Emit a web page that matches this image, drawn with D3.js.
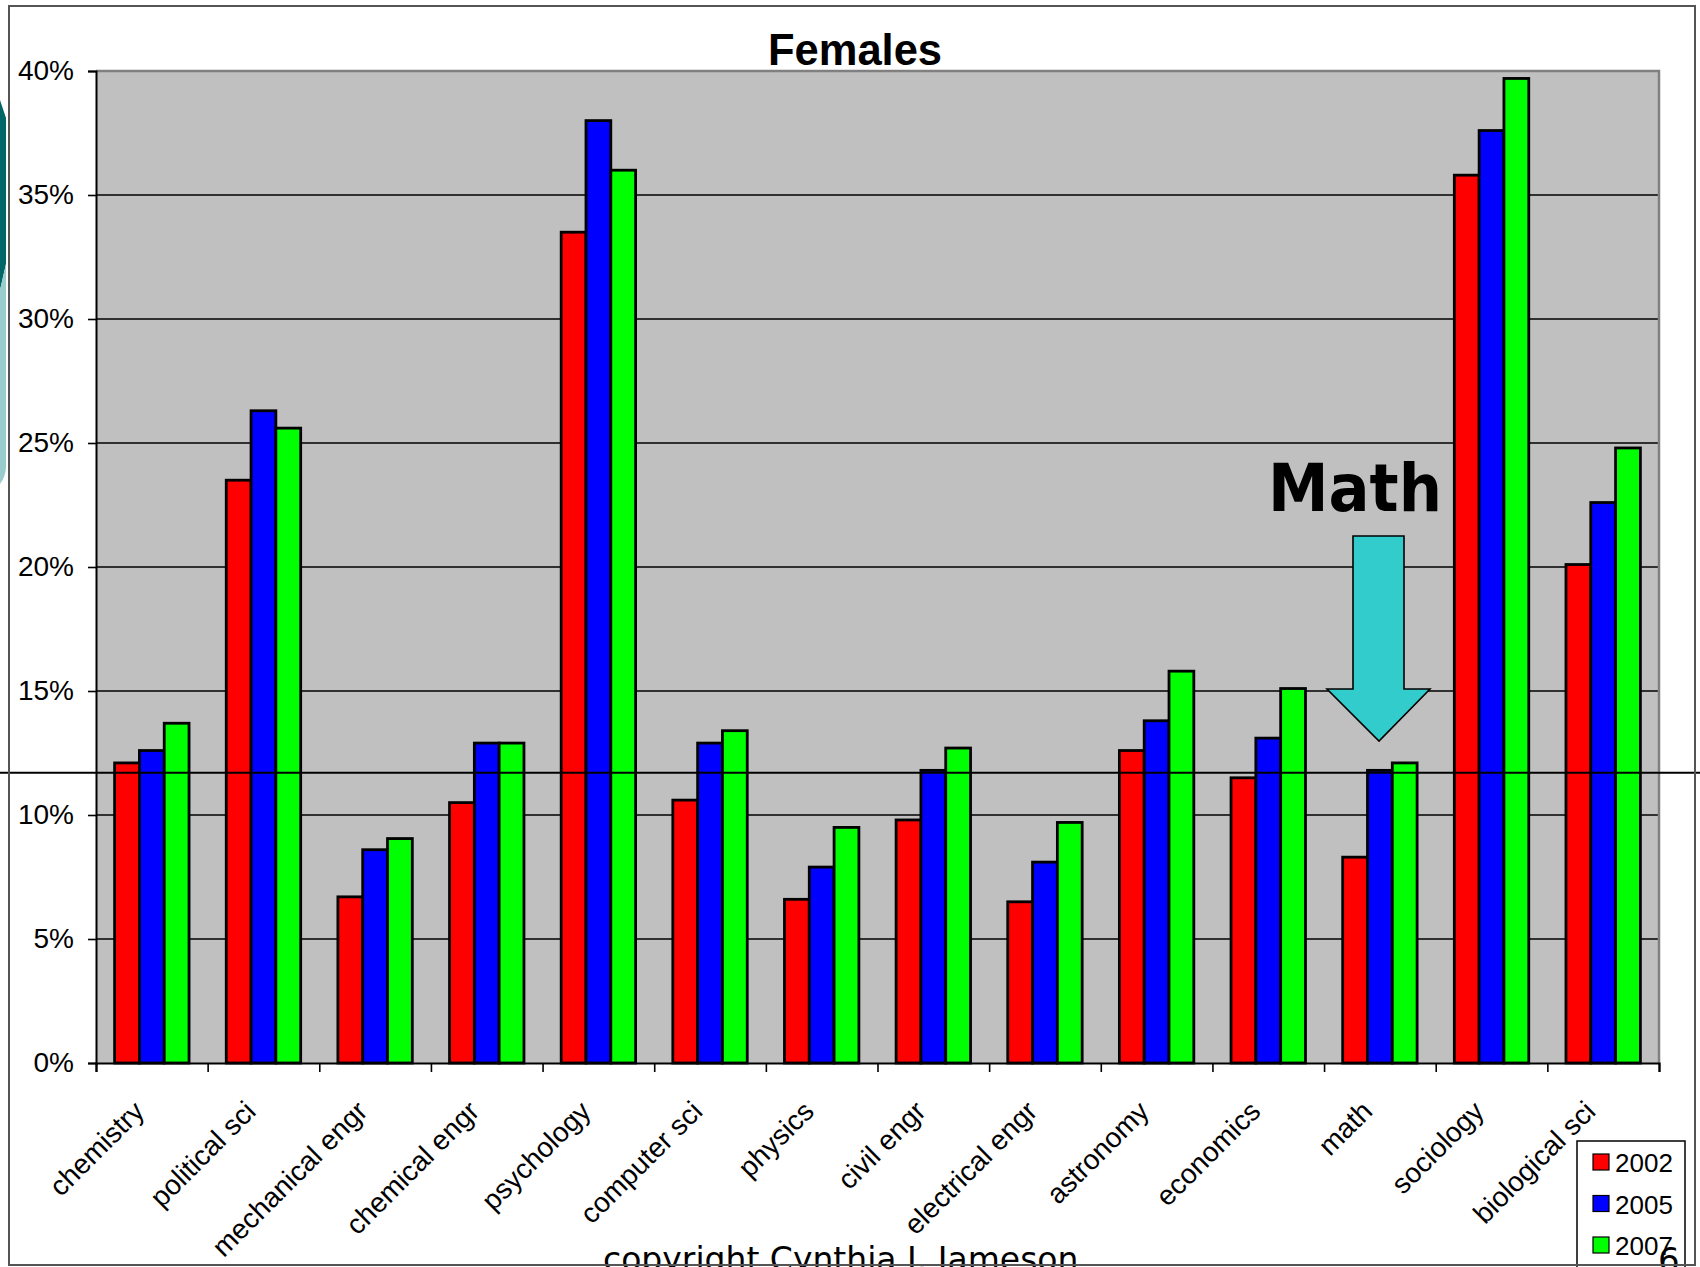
<!DOCTYPE html>
<html>
<head>
<meta charset="utf-8">
<script src="https://cdn.jsdelivr.net/npm/d3@7"></script>
<style>
  body { margin: 0; background: #fff; }
  svg { display: block; }
</style>
</head>
<body>
<svg id="chart" width="1700" height="1267"></svg>
<script>
// Share of female students by field, percent
const categories = ["chemistry", "political sci", "mechanical engr", "chemical engr", "psychology",
  "computer sci", "physics", "civil engr", "electrical engr", "astronomy", "economics",
  "math", "sociology", "biological sci"];
const years = ["2002", "2005", "2007"];
const values2002 = [12.1, 23.5, 6.7, 10.5, 33.5, 10.6, 6.6, 9.8, 6.5, 12.6, 11.5, 8.3, 35.8, 20.1];
const values2005 = [12.6, 26.3, 8.6, 12.9, 38.0, 12.9, 7.9, 11.8, 8.1, 13.8, 13.1, 11.8, 37.6, 22.6];
const values2007 = [13.7, 25.6, 9.05, 12.9, 36.0, 13.4, 9.5, 12.7, 9.7, 15.8, 15.1, 12.1, 39.7, 24.8];
const yTicks = [0, 5, 10, 15, 20, 25, 30, 35, 40];
const mathLevel = 11.7;   // reference line drawn across the slide
const seriesColors = ["#ff0000", "#0000ff", "#00ff00"];

const seriesValues = [values2002, values2005, values2007];
const rows = categories.map((c, i) => ({
  category: c,
  bars: years.map((y, k) => ({ year: y, value: seriesValues[k][i], color: seriesColors[k] }))
}));

const svg = d3.select("#chart");
const W = 1700, H = 1267;
const plot = { left: 96, right: 1659, top: 71, bottom: 1063 };

const x0 = d3.scaleBand().domain(categories).range([plot.left, plot.right]).paddingInner(0).paddingOuter(0);
const x1 = d3.scaleBand().domain(years).range([0, x0.bandwidth()]).paddingInner(0).paddingOuter(0.75);
const y = d3.scaleLinear().domain([0, 40]).range([plot.bottom, plot.top]);

// slide decoration on the left edge
svg.append("path")
  .attr("d", "M0,100 L6,118 L6,264 L0,290 Z")
  .attr("fill", "#006666");
svg.append("path")
  .attr("d", "M0,290 L6,264 L6,466 Q6,476 0,484 Z")
  .attr("fill", "#99cccc");

// plot background
svg.append("rect")
  .attr("x", plot.left).attr("y", plot.top)
  .attr("width", plot.right - plot.left).attr("height", plot.bottom - plot.top)
  .attr("fill", "#c0c0c0");

// gridlines
svg.append("g").selectAll("line").data(yTicks.filter(t => t > 0 && t < 40)).join("line")
  .attr("x1", plot.left).attr("x2", plot.right)
  .attr("y1", d => y(d)).attr("y2", d => y(d))
  .attr("stroke", "#000").attr("stroke-width", 1.6);

// plot border (top and right)
svg.append("path")
  .attr("d", `M${plot.left},${plot.top} H${plot.right} V${plot.bottom}`)
  .attr("fill", "none").attr("stroke", "#808080").attr("stroke-width", 2.5);

// bars
const groups = svg.append("g").selectAll("g").data(rows).join("g")
  .attr("transform", d => `translate(${x0(d.category)},0)`);
groups.selectAll("rect").data(d => d.bars).join("rect")
  .attr("x", d => x1(d.year))
  .attr("y", d => y(d.value))
  .attr("width", x1.bandwidth())
  .attr("height", d => y(0) - y(d.value))
  .attr("fill", d => d.color)
  .attr("stroke", "#000").attr("stroke-width", 2.8);

// y axis
const yAxis = svg.append("g")
  .attr("transform", `translate(${plot.left},0)`)
  .call(d3.axisLeft(y).tickValues(yTicks).tickSize(8).tickPadding(14).tickFormat(d => d + "%"));
yAxis.select(".domain").attr("stroke", "#000").attr("stroke-width", 2);
yAxis.selectAll(".tick line").attr("stroke", "#000").attr("stroke-width", 1.6);
yAxis.selectAll(".tick text")
  .attr("font-family", "'Liberation Sans', Arial, sans-serif")
  .attr("font-size", 28).attr("fill", "#000");

// x axis: ticks between categories
const xBounds = categories.map(c => x0(c)).concat([x0.range()[1]]);
const xAxis = svg.append("g")
  .attr("transform", `translate(0,${plot.bottom})`)
  .call(d3.axisBottom(d3.scaleLinear().domain([plot.left, plot.right]).range([plot.left, plot.right]))
    .tickValues(xBounds).tickSize(9).tickFormat(""));
xAxis.select(".domain").attr("stroke", "#000").attr("stroke-width", 2.2);
xAxis.selectAll(".tick line").attr("stroke", "#000").attr("stroke-width", 1.6);

// rotated category labels
svg.append("g").selectAll("text").data(categories).join("text")
  .attr("transform", d => `translate(${x0(d) + x0.bandwidth() / 2 - 6},${plot.bottom + 50}) rotate(-45)`)
  .attr("text-anchor", "end")
  .attr("font-family", "'Liberation Sans', Arial, sans-serif")
  .attr("font-size", 28).attr("fill", "#000")
  .text(d => d);

// title
svg.append("text")
  .attr("x", 855).attr("y", 65)
  .attr("text-anchor", "middle")
  .attr("font-family", "'Liberation Sans', Arial, sans-serif")
  .attr("font-weight", "bold").attr("font-size", 43.5)
  .text("Females");

// horizontal reference line across the slide
svg.append("line")
  .attr("x1", 0).attr("x2", W)
  .attr("y1", y(mathLevel)).attr("y2", y(mathLevel))
  .attr("stroke", "#000").attr("stroke-width", 2);

// Math annotation with arrow
svg.append("text")
  .attr("x", 1268).attr("y", 511)
  .attr("font-family", "'DejaVu Sans', Verdana, sans-serif")
  .attr("font-weight", "bold").attr("font-size", 66)
  .attr("textLength", 174).attr("lengthAdjust", "spacingAndGlyphs")
  .text("Math");
svg.append("path")
  .attr("d", "M1353,536 H1404 V689 H1430 L1379,741 L1327,689 H1353 Z")
  .attr("fill", "#33cccc").attr("stroke", "#000").attr("stroke-width", 1.6)
  .attr("stroke-linejoin", "miter");

// legend
const legend = svg.append("g");
legend.append("rect")
  .attr("x", 1577).attr("y", 1141).attr("width", 108).attr("height", 140)
  .attr("fill", "#fff").attr("stroke", "#000").attr("stroke-width", 1.5);
const items = legend.selectAll("g").data(years).join("g")
  .attr("transform", (d, i) => `translate(1593,${1162 + i * 41.5})`);
items.append("rect")
  .attr("x", 0).attr("y", -8).attr("width", 16).attr("height", 16)
  .attr("fill", (d, i) => seriesColors[i]).attr("stroke", "#000").attr("stroke-width", 1.2);
items.append("text")
  .attr("x", 22).attr("y", 1).attr("dy", "0.36em")
  .attr("font-family", "'Liberation Sans', Arial, sans-serif")
  .attr("font-size", 26).attr("fill", "#000")
  .text(d => d);

// footer
svg.append("text")
  .attr("x", 603).attr("y", 1271)
  .attr("font-family", "'DejaVu Sans', Verdana, sans-serif")
  .attr("font-size", 33).attr("fill", "#000")
  .text("copyright Cynthia J. Jameson");
svg.append("text")
  .attr("x", 1658).attr("y", 1272)
  .attr("font-family", "'DejaVu Sans', Verdana, sans-serif")
  .attr("font-size", 34).attr("fill", "#000")
  .text("6");

// slide frame
svg.append("rect")
  .attr("x", 9).attr("y", 6).attr("width", 1686).attr("height", 1259)
  .attr("fill", "none").attr("stroke", "#555").attr("stroke-width", 2);
</script>
</body>
</html>
